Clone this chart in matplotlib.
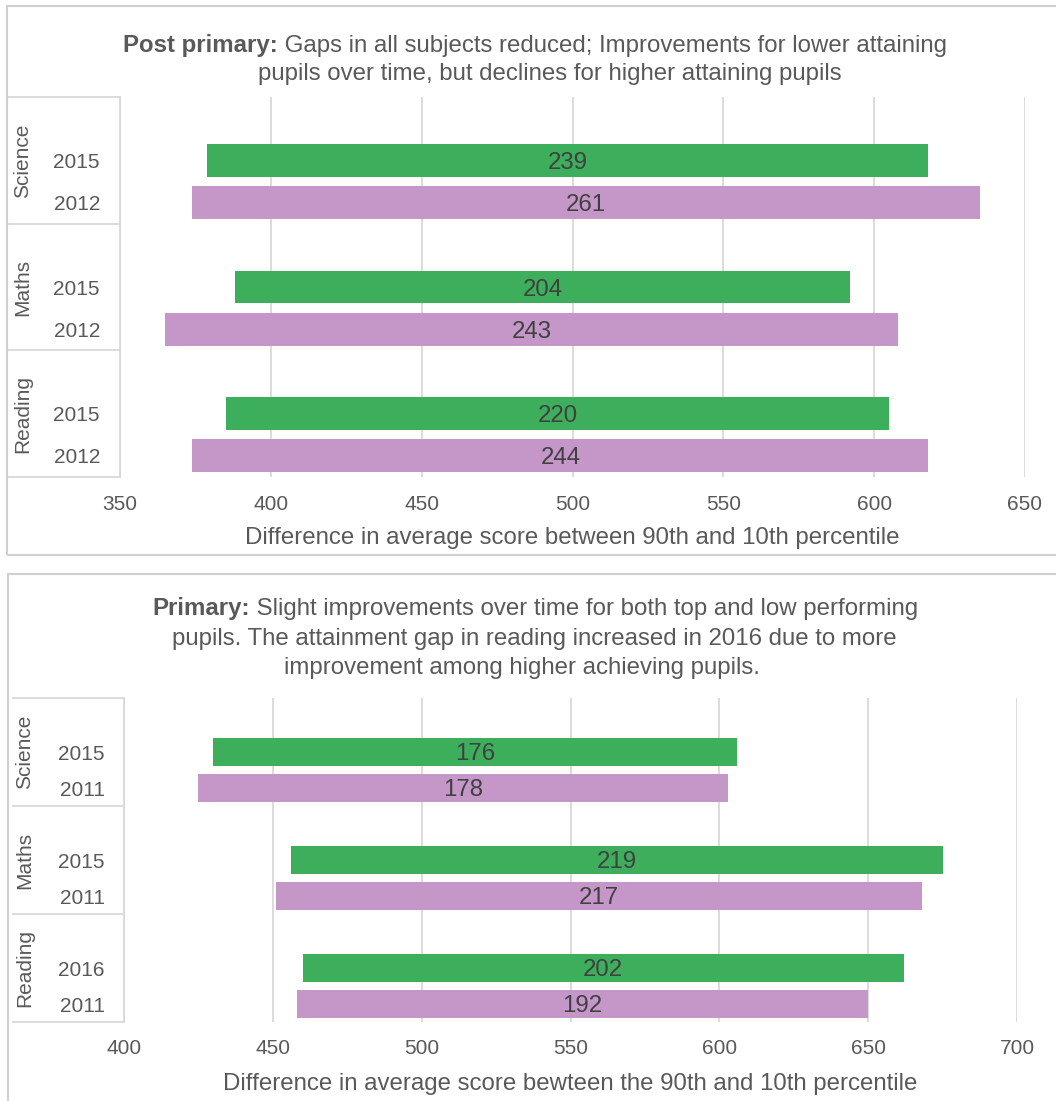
import matplotlib
matplotlib.use('Agg')
import matplotlib.pyplot as plt
from matplotlib.transforms import blended_transform_factory
from matplotlib.lines import Line2D
from matplotlib.patches import Rectangle

plt.rcParams['font.family'] = ['Liberation Sans', 'DejaVu Sans']

# ---------------- data ----------------
subjects = ['Science', 'Maths', 'Reading']

post_years = ['2015', '2012', '2015', '2012', '2015', '2012']
post_p10 = [379, 374, 388, 365, 385, 374]
post_gap = [239, 261, 204, 243, 220, 244]

prim_years = ['2015', '2011', '2015', '2011', '2016', '2011']
prim_p10 = [430, 425, 456, 451, 460, 458]
prim_gap = [176, 178, 219, 217, 202, 192]

post_ticks = [350, 400, 450, 500, 550, 600, 650]
prim_ticks = [400, 450, 500, 550, 600, 650, 700]

post_xlabel = 'Difference in average score between 90th and 10th percentile'
prim_xlabel = 'Difference in average score bewteen the 90th and 10th percentile'

post_title = [('Post primary:', ' Gaps in all subjects reduced; Improvements for lower attaining'),
              ('', 'pupils over time, but declines for higher attaining pupils')]
prim_title = [('Primary:', ' Slight improvements over time for both top and low performing'),
              ('', 'pupils. The attainment gap in reading increased in 2016 due to more'),
              ('', 'improvement among higher achieving pupils.')]

# ---------------- style ----------------
W, H = 1056, 1101
GREEN = '#3dae5b'
PURPLE = '#c497c8'
TXT = '#595959'
LBL = '#404040'
GRID = '#d9d9d9'
BORDER = '#d0d0d0'
FS = 15
FSB = 17.3

fig = plt.figure(figsize=(W / 100, H / 100), dpi=100)


def fx(px):
    return px / W


def fy(py):
    return 1 - py / H


renderer = fig.canvas.get_renderer()


def title_line(cx, base_y, bold, rest):
    parts = []
    if bold:
        parts.append(fig.text(0, 0, bold, weight='bold', fontsize=FSB, color=TXT,
                              ha='left', va='baseline'))
    parts.append(fig.text(0, 0, rest, fontsize=FSB, color=TXT, ha='left', va='baseline'))
    widths = [p.get_window_extent(renderer).width for p in parts]
    x = cx - sum(widths) / 2
    for p, w in zip(parts, widths):
        p.set_position((fx(x), fy(base_y)))
        x += w


def panel(box, left, right, top, bottom, xlim, xticks, years, p10, gap, xlabel,
          br_x0, sub_x, ypad, xpad, lpad, titles, title_cx, title_base):
    # panel border
    fig.add_artist(Rectangle((fx(box[0]), fy(box[3])), fx(box[2] - box[0]),
                             (box[3] - box[1]) / H, transform=fig.transFigure,
                             fill=False, edgecolor=BORDER, lw=1.5))
    ax = fig.add_axes([fx(left), fy(bottom), (right - left) / W, (bottom - top) / H])
    pos = []
    for g in range(3):
        pos += [3 * g + 1, 3 * g + 2]
    colors = [GREEN, PURPLE] * 3
    ax.barh(pos, gap, left=p10, height=0.78, color=colors, zorder=3)
    for y, l, gp in zip(pos, p10, gap):
        ax.text(l + gp / 2, y, str(gp), ha='center', va='center_baseline', color=LBL,
                fontsize=FSB, zorder=4)
    ax.set_ylim(8.5, -0.5)
    ax.set_xlim(*xlim)
    ax.set_xticks(xticks)
    ax.set_xticklabels([str(t) for t in xticks])
    ax.set_yticks(pos)
    ax.set_yticklabels(years)
    ax.tick_params(axis='both', length=0, labelsize=FS, colors=TXT)
    ax.tick_params(axis='y', pad=ypad)
    ax.tick_params(axis='x', pad=xpad)
    ax.grid(axis='x', color=GRID, lw=1.3, zorder=0)
    ax.set_axisbelow(True)
    for s in ['top', 'right', 'bottom']:
        ax.spines[s].set_visible(False)
    ax.spines['left'].set_color(GRID)
    ax.spines['left'].set_linewidth(1.3)
    ax.set_xlabel(xlabel, fontsize=FSB, color=TXT, labelpad=lpad)
    trans = blended_transform_factory(fig.transFigure, ax.transData)
    for yb in [-0.5, 2.5, 5.5, 8.5]:
        ax.add_line(Line2D([fx(br_x0), fx(left)], [yb, yb], transform=trans,
                           color=GRID, lw=1.3, clip_on=False))
    for g, s in enumerate(subjects):
        ax.text(fx(sub_x), 3 * g + 1, s, rotation=90, ha='center', va='center',
                transform=trans, fontsize=FS, color=TXT)
    for i, (b, r) in enumerate(titles):
        title_line(title_cx[i], title_base[i], b, r)
    return ax


panel((7, 6, 1070, 555), 120, 1025, 97, 477, (350, 650), post_ticks, post_years,
      post_p10, post_gap, post_xlabel, 8, 23, 14.4, 13, 9.5,
      post_title, [535, 550], [52, 80])

panel((8, 574, 1070, 1120), 124, 1017, 698, 1022, (400, 700), prim_ticks, prim_years,
      prim_p10, prim_gap, prim_xlabel, 13, 25, 13.7, 12.5, 10.5,
      prim_title, [535, 534, 522], [615, 645, 674])

fig.savefig('out.png', dpi=100)
